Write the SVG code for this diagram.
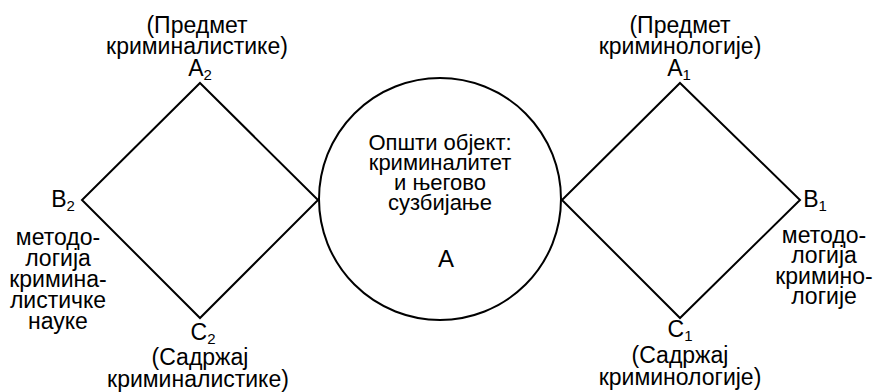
<svg xmlns="http://www.w3.org/2000/svg" width="875" height="392" viewBox="0 0 875 392">
<style>
text{font-family:"Liberation Sans",Arial,sans-serif;font-size:23px;fill:#000;text-anchor:middle}
.c{font-size:22px}
.sub{font-size:15px}
.shape{fill:none;stroke:#000;stroke-width:2;stroke-linejoin:miter}
</style>
<rect width="875" height="392" fill="#fff"/>
<g id="connectors">
<polygon id="diamond-left" class="shape" points="200,83 318,200 200,318 82,200"/>
<polygon id="diamond-right" class="shape" points="680,83 800,200 680,318 562,200"/>
</g>
<g id="node-A">
<circle class="shape" cx="440" cy="199" r="121"/>
<text class="c" x="440" y="150">Општи објект:</text>
<text class="c" x="440" y="170">криминалитет</text>
<text class="c" x="440" y="190">и његово</text>
<text class="c" x="440" y="210">сузбијање</text>
<text x="446" y="267" style="font-size:24px">A</text>
</g>
<g id="node-A2">
<text x="197" y="33">(Предмет</text>
<text x="197" y="54">криминалистике)</text>
<text x="200" y="76">A<tspan class="sub" dy="4">2</tspan></text>
</g>
<g id="node-B2">
<text x="63" y="207">B<tspan class="sub" dy="4">2</tspan></text>
<text x="58" y="245">методо-</text>
<text x="58" y="266">логија</text>
<text x="58" y="287">кримина-</text>
<text x="58" y="308">листичке</text>
<text x="58" y="329">науке</text>
</g>
<g id="node-C2">
<text x="203" y="340">C<tspan class="sub" dy="4">2</tspan></text>
<text x="200" y="365">(Садржај</text>
<text x="198" y="387">криминалистике)</text>
</g>
<g id="node-A1">
<text x="680" y="33">(Предмет</text>
<text x="680" y="54">криминологије)</text>
<text x="679" y="76">A<tspan class="sub" dy="4">1</tspan></text>
</g>
<g id="node-B1">
<text x="815" y="207">B<tspan class="sub" dy="4">1</tspan></text>
<text x="824" y="243">методо-</text>
<text x="824" y="263">логија</text>
<text x="824" y="284">кримино-</text>
<text x="824" y="304">логије</text>
</g>
<g id="node-C1">
<text x="680" y="337">C<tspan class="sub" dy="4">1</tspan></text>
<text x="680" y="363">(Садржај</text>
<text x="680" y="385">криминологије)</text>
</g>
</svg>
